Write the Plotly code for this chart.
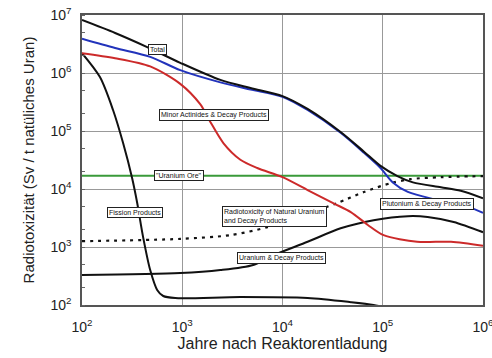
import plotly.graph_objects as go

# ---- data (years after discharge, radiotoxicity Sv / t natural uranium) ----
total_x = [100, 214, 447, 955, 2400, 4800, 1e4, 1.78e4, 3.8e4, 6.5e4, 9.5e4, 1.4e5, 2.0e5, 3.8e5, 6.0e5, 1e6]
total_y = [8.2e6, 4.9e6, 2.8e6, 1.5e6, 7.6e5, 5.5e5, 4.0e5, 2.4e5, 9.6e4, 4.4e4, 2.5e4, 1.67e4, 1.3e4, 1.07e4, 9.3e3, 6.9e3]

pu_x = [100, 214, 479, 955, 2400, 4800, 1e4, 1.78e4, 3.8e4, 6.5e4, 9.5e4, 1.26e5, 1.78e5, 3.0e5, 5.6e5, 1e6]
pu_y = [3.9e6, 2.7e6, 1.9e6, 1.12e6, 6.9e5, 5.2e5, 3.9e5, 2.3e5, 9.3e4, 4.2e4, 2.3e4, 1.3e4, 8.9e3, 6.9e3, 5.7e3, 3.9e3]

ma_x = [100, 214, 479, 955, 1510, 1900, 2570, 3800, 5600, 1e4, 1.78e4, 3.2e4, 4.8e4, 7.1e4, 1.02e5, 2.2e5, 4.8e5, 1e6]
ma_y = [2.2e6, 1.8e6, 1.3e6, 6.5e5, 2.9e5, 1.45e5, 6.2e4, 3.2e4, 2.3e4, 1.6e4, 9.6e3, 5.7e3, 4.0e3, 2.4e3, 1.6e3, 1.23e3, 1.23e3, 1.05e3]

ore_x = [100, 1e6]
ore_y = [1.7e4, 1.7e4]

nat_x = [100, 955, 3000, 7100, 1.5e4, 3.5e4, 6.5e4, 1.2e5, 1.9e5, 3.8e5, 1e6]
nat_y = [1.26e3, 1.38e3, 1.6e3, 2.2e3, 3.4e3, 5.7e3, 8.9e3, 1.26e4, 1.48e4, 1.6e4, 1.67e4]

u_x = [100, 955, 2400, 5100, 8100, 1.78e4, 3.8e4, 8.1e4, 1.78e5, 2.8e5, 5.1e5, 1e6]
u_y = [330, 355, 400, 490, 720, 1.23e3, 2.1e3, 2.9e3, 3.4e3, 3.3e3, 2.7e3, 1.8e3]

fp_x = [100, 151, 204, 257, 316, 355, 407, 479, 562, 646, 851, 3800, 1.78e4, 4.8e4, 8.1e4, 1.26e5]
fp_y = [2.2e6, 8.5e5, 2.3e5, 6.2e4, 1.55e4, 5.8e3, 1.48e3, 400, 182, 143, 132, 137, 132, 112, 100, 85]

tick_vals = [1e2, 1e3, 1e4, 1e5, 1e6, 1e7]
tick_text = ["10<sup>2</sup>", "10<sup>3</sup>", "10<sup>4</sup>", "10<sup>5</sup>", "10<sup>6</sup>", "10<sup>7</sup>"]

label_texts = ["Total", "Minor Actinides &amp; Decay Products", "\"Uranium Ore\"", "Fission Products",
               "Radiotoxicity of Natural Uranium<br>and Decay Products", "Uranium &amp; Decay Products",
               "Plutonium &amp; Decay Products"]

# ---- figure ----
fig = go.Figure()

def add(x, y, color, width=2, dash="solid", shape="spline"):
    fig.add_trace(go.Scatter(x=x, y=y, mode="lines",
                             line=dict(color=color, width=width, dash=dash, shape=shape, smoothing=0.8),
                             showlegend=False, hoverinfo="skip", cliponaxis=True))

add(ore_x, ore_y, "#3a9a3a", 2, shape="linear")
add(nat_x, nat_y, "#111111", 2.2, dash="3px,5px")
add(u_x, u_y, "#111111", 2)
add(fp_x, fp_y, "#111111", 2)
add(ma_x, ma_y, "#cc2a2a", 2)
add(pu_x, pu_y, "#2233bb", 2)
add(total_x, total_y, "#111111", 2)

# label positions (log10 units on log axes)
label_pos = [(2.75, 6.40), (3.32, 5.28), (2.97, 4.24), (2.53, 3.60), (3.92, 3.52), (3.99, 2.81), (5.44, 3.74)]
for txt, (lx, ly) in zip(label_texts, label_pos):
    fig.add_annotation(x=lx, y=ly, xref="x", yref="y", text=txt, showarrow=False,
                       font=dict(family="Liberation Sans, Arial, sans-serif", size=7, color="#111"),
                       align="left", bgcolor="white", bordercolor="#222", borderwidth=1, borderpad=1)

axis_font = dict(family="Liberation Sans, Arial, sans-serif", size=14, color="#222")
fig.update_xaxes(type="log", range=[2, 6], tickvals=tick_vals[:5], ticktext=tick_text[:5],
                 showgrid=True, gridcolor="#999", gridwidth=1, zeroline=False,
                 showline=True, linecolor="#555", linewidth=1.5, mirror=True,
                 ticks="", ticklabelstandoff=8, tickfont=axis_font, automargin=False,
                 ticklabeloverflow="allow",
                 title=dict(text="Jahre nach Reaktorentladung", font=dict(family="Liberation Sans, Arial, sans-serif", size=16, color="#222"), standoff=2))
fig.update_yaxes(type="log", range=[2, 7], tickvals=tick_vals, ticktext=tick_text,
                 showgrid=True, gridcolor="#999", gridwidth=1, zeroline=False,
                 showline=True, linecolor="#555", linewidth=1.5, mirror=True,
                 ticks="", ticklabelstandoff=6, tickfont=axis_font, automargin=False,
                 ticklabeloverflow="allow",
                 minor=dict(ticks="inside", ticklen=3, tickcolor="#666", showgrid=False),
                 title=dict(text="Radiotoxizität (Sv / t natüliches Uran)", font=dict(family="Liberation Sans, Arial, sans-serif", size=15, color="#222"), standoff=12))

fig.update_layout(width=492, height=358, margin=dict(l=82, r=9, t=15, b=53, autoexpand=False),
                  paper_bgcolor="white", plot_bgcolor="white")

fig.write_html("out.html", config={"displayModeBar": False},
               post_script="document.body.style.margin='0px';document.body.style.padding='0px';")
